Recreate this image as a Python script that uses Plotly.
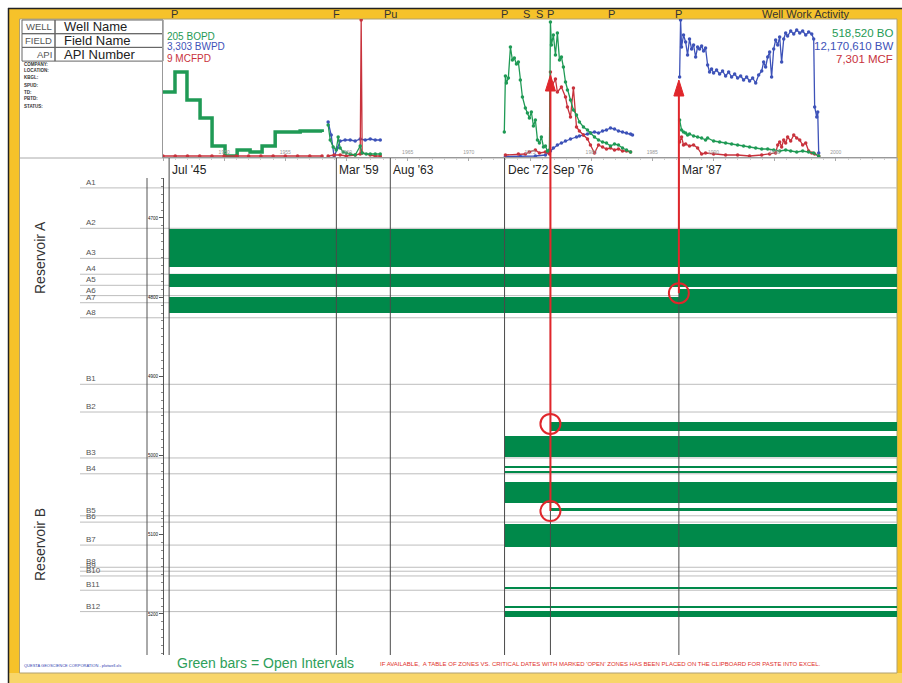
import plotly.graph_objects as go

W, H = 902, 683


def fx(p):
    return p / W


def fy(p):
    return 1 - p / H


# ---------------- production history (relative rate units) ----------------
oil_step_dates = [1945.0, 1945.98, 1946.96, 1948.03, 1949.01, 1950.07, 1951.06,
                  1952.12, 1953.10, 1954.17, 1956.21, 1958.01]
oil_step_rates = [65, 85, 57, 39, 11, 1, 7, 5, 11, 25, 26, 25]

oil_1958_dates = [1958.50, 1958.67, 1958.91, 1959.16, 1959.32, 1959.48, 1959.73, 1959.98,
                  1960.30, 1960.71, 1961.12, 1961.28, 1961.61, 1961.94, 1962.35, 1962.76]
oil_1958_rates = [32, 17, 10, 7, 20, 9, 5, 4, 3, 2, 11, 4, 3, 3, 3, 3]

oil_1972_dates = [1972.90, 1972.99, 1973.07, 1973.23, 1973.40, 1973.56, 1973.72, 1973.89,
                  1974.05, 1974.21, 1974.38, 1974.62, 1974.79, 1974.95, 1975.11, 1975.28,
                  1975.44, 1975.61, 1975.77, 1975.93, 1976.10, 1976.26, 1976.42, 1976.59,
                  1976.67, 1976.75, 1976.91, 1977.08, 1977.24, 1977.41, 1977.57, 1977.73,
                  1977.90, 1978.06, 1978.31, 1978.55, 1978.80, 1979.04, 1979.37, 1979.70,
                  1979.94, 1980.27, 1980.60, 1980.93, 1981.25, 1981.58, 1981.91, 1982.23,
                  1982.56, 1982.89, 1983.22]
oil_1972_rates = [25, 81, 74, 79, 110, 97, 99, 93, 95, 77, 60, 49, 44, 39, 45, 31,
                  37, 17, 14, 20, 10, 11, 6, 7, 135, 112, 122, 102, 124, 97, 100, 90,
                  75, 67, 57, 47, 42, 35, 30, 27, 24, 20, 17, 15, 14, 11, 13, 12,
                  9, 7, 5]

oil_1987_dates = [1987.23, 1987.39, 1987.55, 1987.72, 1987.88, 1988.04, 1988.37, 1988.70,
                  1989.03, 1989.35, 1989.52, 1990.01, 1990.50, 1990.99, 1991.48, 1991.97,
                  1992.46, 1992.95, 1993.45, 1993.94, 1994.43, 1994.92, 1995.41, 1995.90,
                  1996.31, 1996.80, 1997.29, 1997.78, 1998.19, 1998.60]
oil_1987_rates = [37, 27, 25, 24, 22, 23, 21, 20, 19, 17, 19, 16, 15, 14, 13, 12,
                  11, 10, 9, 8, 8, 7, 6, 7, 6, 5, 6, 5, 4, 1]

water_1958_dates = [1958.50, 1958.75, 1958.99, 1959.24, 1959.48, 1959.89, 1960.30,
                    1960.71, 1961.12, 1961.53, 1961.94, 1962.35, 1962.76]
water_1958_rates = [35, 22, 0, 9, 16, 17, 17, 16, 18, 17, 18, 17, 17]

water_1972_dates = [1972.99, 1974.21, 1975.44, 1976.26, 1976.67, 1976.91, 1977.24, 1977.57,
                    1977.90, 1978.31, 1978.80, 1979.04, 1979.37, 1979.70, 1979.94, 1980.27,
                    1980.60, 1980.93, 1981.25, 1981.58, 1981.91, 1982.23, 1982.56, 1982.89,
                    1983.22, 1983.38]
water_1972_rates = [0.5, 0.5, 1, 2, 6, 9, 12, 14, 16, 18, 20, 21, 22, 23, 24, 25,
                    24, 26, 27, 29, 28, 26, 25, 24, 23, 22]

water_1987_dates = [1987.23, 1987.31, 1987.39, 1987.55, 1987.72, 1987.88, 1988.04, 1988.21,
                    1988.37, 1988.54, 1988.70, 1988.86, 1989.03, 1989.19, 1989.35, 1989.52,
                    1989.68, 1989.84, 1990.01, 1990.25, 1990.50, 1990.74, 1990.99, 1991.24,
                    1991.48, 1991.73, 1991.97, 1992.22, 1992.46, 1992.71, 1992.95, 1993.20,
                    1993.45, 1993.69, 1993.94, 1994.10, 1994.26, 1994.43, 1994.59, 1994.75,
                    1994.92, 1995.08, 1995.25, 1995.41, 1995.57, 1995.74, 1995.90, 1996.06,
                    1996.31, 1996.56, 1996.80, 1997.05, 1997.29, 1997.54, 1997.78, 1998.03,
                    1998.19, 1998.27, 1998.44, 1998.52, 1998.60]
water_1987_rates = [80, 137, 110, 122, 115, 102, 118, 108, 112, 100, 110, 108, 111, 106, 109, 92,
                    85, 88, 84, 87, 83, 86, 81, 85, 80, 83, 79, 81, 77, 80, 76, 79,
                    74, 82, 86, 95, 90, 100, 105, 80, 108, 117, 112, 120, 95, 118,
                    124, 121, 126, 123, 127, 124, 126, 122, 125, 123, 118, 50, 40, 45, 4]

gas_1945_dates = [1945.0, 1946.0, 1947.0, 1948.0, 1949.0, 1950.0, 1951.0,
                  1952.0, 1953.0, 1954.0, 1955.0, 1956.0, 1957.0, 1958.0]
gas_1945_rates = [1, 1, 1, 1, 1, 1, 1, 1, 1, 1, 1, 1, 1, 1]

gas_1958_dates = [1958.50, 1958.99, 1959.48, 1959.98, 1960.71, 1961.12, 1961.20, 1961.28,
                  1961.94, 1962.35, 1962.76]
gas_1958_rates = [1, 2, 2, 1, 2, 3, 137, 4, 2, 1, 1]

gas_1972_dates = [1972.99, 1974.05, 1974.62, 1974.95, 1975.44, 1975.77, 1976.26, 1976.59,
                  1976.67, 1976.75, 1977.08, 1977.24, 1977.57, 1977.90, 1978.06, 1978.31,
                  1978.55, 1978.80, 1979.04, 1979.37, 1979.70, 1979.94, 1980.27, 1980.60,
                  1980.93, 1981.25, 1981.58, 1981.91, 1982.23, 1982.56, 1982.89, 1983.22]
gas_1972_rates = [2, 3, 3, 5, 7, 4, 5, 3, 85, 70, 78, 65, 70, 60, 50, 40,
                  69, 30, 26, 22, 18, 12, 4, 12, 10, 8, 9, 7, 8, 6, 6, 5]

gas_1987_dates = [1987.23, 1987.39, 1987.55, 1987.72, 1988.04, 1988.37, 1988.70, 1989.03,
                  1989.35, 1990.01, 1990.99, 1991.97, 1992.95, 1993.94, 1994.59, 1995.08,
                  1995.25, 1995.41, 1995.57, 1995.74, 1995.90, 1996.06, 1996.31, 1996.56,
                  1996.80, 1997.05, 1997.29, 1997.54, 1997.78, 1998.03, 1998.27, 1998.60]
gas_1987_rates = [15, 20, 12, 13, 11, 12, 9, 3, 4, 3, 2, 2, 1, 2, 3, 4,
                  12, 15, 10, 17, 14, 20, 16, 22, 19, 17, 12, 14, 6, 4, 3, 1]

# ---------------- well work & zones ----------------
activity_codes = ["P", "F", "Pu", "P", "S", "S", "P", "P", "P"]
activity_dates = [1945.9, 1959.2, 1963.6, 1972.92, 1974.7, 1975.8, 1976.67, 1981.7, 1987.17]

event_labels = ["Jul '45", "Mar '59", "Aug '63", "Dec '72", "Sep '76", "Mar '87"]
event_dates = [1945.5, 1959.17, 1963.58, 1972.92, 1976.67, 1987.17]

zone_names = ["A1", "A2", "A3", "A4", "A5", "A6", "A7", "A8",
              "B1", "B2", "B3", "B4", "B5", "B6", "B7", "B8", "B9", "B10", "B11", "B12"]
zone_tops = [4662, 4713, 4751, 4771, 4785, 4798, 4807, 4826,
             4910, 4945, 5003, 5023, 5076, 5084, 5113, 5141, 5146, 5152, 5170, 5197]

interval_top = [4714, 4771, 4800, 4790, 4958, 4975, 5013, 5019, 5033, 5066, 5086, 5166, 5190, 5196]
interval_base = [4762, 4787, 4820, 4800, 4969, 5002, 5016, 5022, 5060, 5070, 5115, 5168, 5192, 5204]
interval_open = [1945.5, 1945.5, 1945.5, 1987.17, 1976.67, 1972.92, 1972.92, 1972.92,
                 1972.92, 1976.67, 1972.92, 1972.92, 1972.92, 1972.92]
interval_close = 2005.0

# newly opened zones: (work date, zone depth)
opened_dates = [1976.67, 1976.67, 1987.17]
opened_depths = [4960, 5070, 4795]

totals = ["518,520 BO", "12,170,610 BW", "7,301 MCF"]
current_rates = ["205 BOPD", "3,303 BWPD", "9 MCFPD"]

OIL = "#1f9a55"
WATER = "#3d52b8"
GAS = "#c8323c"
BAR = "#00894a"
ARROW = "#e0262b"
GOLD = "#f6c22a"
FONT = "Arial, Liberation Sans, sans-serif"

fig = go.Figure()


def gap_join(*parts):
    xs, ys = [], []
    for i, (a, b) in enumerate(parts):
        if i:
            xs.append(None)
            ys.append(None)
        xs += a
        ys += b
    return xs, ys


fig.add_trace(go.Scatter(x=oil_step_dates, y=oil_step_rates, mode="lines",
                         line=dict(color=OIL, width=3.5, shape="hv"),
                         xaxis="x", yaxis="y", hoverinfo="skip"))

for color, parts in [
    (WATER, [(water_1958_dates, water_1958_rates), (water_1972_dates, water_1972_rates),
             (water_1987_dates, water_1987_rates)]),
    (GAS, [(gas_1945_dates, gas_1945_rates), (gas_1958_dates, gas_1958_rates),
           (gas_1972_dates, gas_1972_rates), (gas_1987_dates, gas_1987_rates)]),
    (OIL, [(oil_1958_dates, oil_1958_rates), (oil_1972_dates, oil_1972_rates),
           (oil_1987_dates, oil_1987_rates)]),
]:
    xs, ys = gap_join(*parts)
    fig.add_trace(go.Scatter(x=xs, y=ys, mode="lines+markers",
                             line=dict(color=color, width=1.3),
                             marker=dict(color=color, size=3.5),
                             xaxis="x", yaxis="y", hoverinfo="skip"))

# open intervals
fig.add_trace(go.Bar(
    orientation="h",
    y=[(t + b) / 2 for t, b in zip(interval_top, interval_base)],
    width=[b - t for t, b in zip(interval_top, interval_base)],
    base=interval_open,
    x=[interval_close - o for o in interval_open],
    marker=dict(color=BAR, line=dict(width=0)),
    xaxis="x2", yaxis="y2", hoverinfo="skip"))

shapes = []
ann = []

# frame
shapes.append(dict(type="rect", xref="paper", yref="paper", x0=fx(8), x1=1.0, y0=0, y1=fy(8),
                   fillcolor=GOLD, line=dict(width=0), layer="below"))
shapes.append(dict(type="rect", xref="paper", yref="paper", x0=fx(8), x1=1.0, y0=0, y1=fy(673),
                   fillcolor="#f8d66a", line=dict(width=0), layer="below"))
shapes.append(dict(type="line", xref="paper", yref="paper", x0=fx(8), x1=1.0, y0=fy(8.5), y1=fy(8.5),
                   line=dict(color="#222", width=1.5), layer="below"))
shapes.append(dict(type="line", xref="paper", yref="paper", x0=fx(8.5), x1=fx(8.5), y0=0, y1=fy(8),
                   line=dict(color="#222", width=1.5), layer="below"))
shapes.append(dict(type="rect", xref="paper", yref="paper", x0=fx(19.5), x1=fx(897), y0=fy(673), y1=fy(19),
                   fillcolor="white", line=dict(color="#b0a070", width=1), layer="below"))

# header table
for i, (lab, val) in enumerate([("WELL", "Well Name"), ("FIELD", "Field Name"), ("API", "API Number")]):
    y0, y1 = 20 + 13.7 * i, 20 + 13.7 * (i + 1)
    shapes.append(dict(type="rect", xref="paper", yref="paper", x0=fx(22), x1=fx(55), y0=fy(y1), y1=fy(y0),
                       line=dict(color="#666", width=1), layer="below"))
    shapes.append(dict(type="rect", xref="paper", yref="paper", x0=fx(55), x1=fx(163), y0=fy(y1), y1=fy(y0),
                       line=dict(color="#666", width=1), layer="below"))
    ann.append(dict(x=fx(54), y=fy((y0 + y1) / 2), xref="paper", yref="paper", text=lab, showarrow=False,
                    xanchor="right", yanchor="middle", font=dict(size=9.5, color="#555", family=FONT)))
    ann.append(dict(x=fx(62), y=fy((y0 + y1) / 2), xref="paper", yref="paper", text=val, showarrow=False,
                    xanchor="left", yanchor="middle", font=dict(size=13, color="#222", family=FONT)))

for i, lab in enumerate(["COMPANY:", "LOCATION:", "KBGL:", "SPUD:", "TD:", "PBTD:", "STATUS:"]):
    ann.append(dict(x=fx(22), y=fy(64 + 7 * i), xref="paper", yref="paper", text="<b>" + lab + "</b>",
                    showarrow=False, xanchor="left", yanchor="middle",
                    font=dict(size=4.5, color="#333", family=FONT)))

# rate / cumulative labels
for i, (txt, col) in enumerate(zip(current_rates, [OIL, WATER, GAS])):
    ann.append(dict(x=fx(165), y=fy(36 + 11 * i), xref="paper", yref="paper", text=txt, showarrow=False,
                    xanchor="left", yanchor="middle", font=dict(size=10, color=col, family=FONT)))
for i, (txt, col) in enumerate(zip(totals, [OIL, WATER, GAS])):
    ann.append(dict(x=fx(895), y=fy(33 + 13 * i), xref="paper", yref="paper", text=txt, showarrow=False,
                    xanchor="right", yanchor="middle", font=dict(size=11.5, color=col, family=FONT)))

# well work codes in the top band
for code, d in zip(activity_codes, activity_dates):
    ann.append(dict(x=d, y=fy(14), xref="x", yref="paper", text=code, showarrow=False,
                    xanchor="center", yanchor="middle", font=dict(size=11, color="#333", family=FONT)))
ann.append(dict(x=fx(805), y=fy(14), xref="paper", yref="paper", text="Well Work Activity", showarrow=False,
                xanchor="center", yanchor="middle", font=dict(size=11, color="#333", family=FONT)))

# separator between production and zone panels
shapes.append(dict(type="line", xref="paper", yref="paper", x0=fx(20), x1=fx(897), y0=fy(158), y1=fy(158),
                   line=dict(color="#aaa", width=1), layer="below"))

# zone tops
for name, d in zip(zone_names, zone_tops):
    shapes.append(dict(type="line", xref="paper", yref="y2", x0=fx(80), x1=fx(897), y0=d, y1=d,
                       line=dict(color="#bdbdbd", width=1), layer="below"))
    ann.append(dict(x=fx(84), y=d, xref="paper", yref="y2", text=name, showarrow=False,
                    xanchor="left", yanchor="bottom", yshift=-1,
                    font=dict(size=8, color="#555", family=FONT)))

# depth track
shapes.append(dict(type="line", xref="paper", yref="paper", x0=fx(147), x1=fx(147), y0=fy(655), y1=fy(178),
                   line=dict(color="#555", width=1)))

# critical dates
for lab, d in zip(event_labels, event_dates):
    shapes.append(dict(type="line", xref="x2", yref="paper", x0=d, x1=d, y0=fy(655), y1=fy(158),
                       line=dict(color="#4a4a4a", width=1)))
    ann.append(dict(x=d, y=fy(170), xref="x2", yref="paper", text=lab, showarrow=False,
                    xanchor="left", yanchor="middle", xshift=1,
                    font=dict(size=12, color="#222", family=FONT)))

# arrows from newly opened zones up to the production response
arrow_tips = {1976.67: 75, 1987.17: 80}
for d, tip in arrow_tips.items():
    lowest = max(dep for od, dep in zip(opened_dates, opened_depths) if od == d)
    shapes.append(dict(type="line", xref="x2", yref="y2", x0=d, x1=d, y0=lowest, y1=4649.5,
                       line=dict(color=ARROW, width=2)))
    shapes.append(dict(type="line", xref="x2", yref="paper", x0=d, x1=d, y0=fy(178), y1=fy(tip + 12),
                       line=dict(color=ARROW, width=2)))
    half = 5 / 12.22
    shapes.append(dict(type="path", xref="x", yref="paper",
                       path=f"M {d - half},{fy(tip + 16)} L {d},{fy(tip)} L {d + half},{fy(tip + 16)} Z",
                       fillcolor=ARROW, line=dict(color=ARROW, width=1)))
for d, dep in zip(opened_dates, opened_depths):
    shapes.append(dict(type="circle", xref="x2", yref="y2", xsizemode="pixel", ysizemode="pixel",
                       xanchor=d, yanchor=dep, x0=-10, x1=10, y0=-10, y1=10,
                       line=dict(color=ARROW, width=2)))

# reservoir names
for txt, yc in [("Reservoir A", 258), ("Reservoir B", 545)]:
    ann.append(dict(x=fx(40), y=fy(yc), xref="paper", yref="paper", text=txt, showarrow=False,
                    textangle=-90, xanchor="center", yanchor="middle",
                    font=dict(size=14, color="#333", family=FONT)))

# footer
ann.append(dict(x=fx(175), y=fy(663), xref="paper", yref="paper", text="Green bars = Open Intervals",
                showarrow=False, xanchor="left", yanchor="middle",
                font=dict(size=14, color="#2ea05a", family=FONT)))
ann.append(dict(x=fx(22), y=fy(665), xref="paper", yref="paper",
                text="QUESTA GEOSCIENCE CORPORATION - plotwell.xls", showarrow=False,
                xanchor="left", yanchor="middle", font=dict(size=4, color="#3040b0", family=FONT)))
ann.append(dict(x=fx(378), y=fy(664), xref="paper", yref="paper",
                text="IF AVAILABLE,  A TABLE OF ZONES VS. CRITICAL DATES WITH MARKED 'OPEN' ZONES HAS BEEN "
                     "PLACED ON THE CLIPBOARD FOR PASTE INTO EXCEL.",
                showarrow=False, xanchor="left", yanchor="middle",
                font=dict(size=6, color="#e0302a", family=FONT)))

fig.update_layout(
    width=W, height=H, margin=dict(l=0, r=0, t=0, b=0),
    paper_bgcolor="white", plot_bgcolor="rgba(0,0,0,0)", showlegend=False,
    barmode="overlay", bargap=0,
    xaxis=dict(domain=[fx(163), fx(897)], range=[1945, 2005], anchor="y",
               showgrid=False, zeroline=False, showline=True, linecolor="#999", linewidth=1,
               ticks="outside", ticklen=3, tickcolor="#aaa", tick0=1945, dtick=5,
               ticklabelposition="inside", tickfont=dict(size=5, color="#999", family=FONT),
               minor=dict(dtick=1, ticks="outside", ticklen=2, tickcolor="#ccc")),
    yaxis=dict(domain=[fy(157), fy(19)], range=[0, 138], anchor="x",
               showgrid=False, zeroline=False, showline=True, linecolor="#999",
               showticklabels=False, ticks=""),
    xaxis2=dict(domain=[fx(163), fx(897)], range=[1945, 2005], anchor="y2", visible=False),
    yaxis2=dict(domain=[fy(655), fy(178)], range=[5251.8, 4649.5], anchor="free", position=fx(163),
                showgrid=False, zeroline=False, showline=True, linecolor="#555", linewidth=1,
                ticks="outside", ticklen=4, tickcolor="#555", tick0=4700, dtick=100,
                tickfont=dict(size=4.5, color="#111", family=FONT),
                minor=dict(dtick=10, ticks="outside", ticklen=2, tickcolor="#888")),
    shapes=shapes, annotations=ann,
)

fig.write_html("out.html")
